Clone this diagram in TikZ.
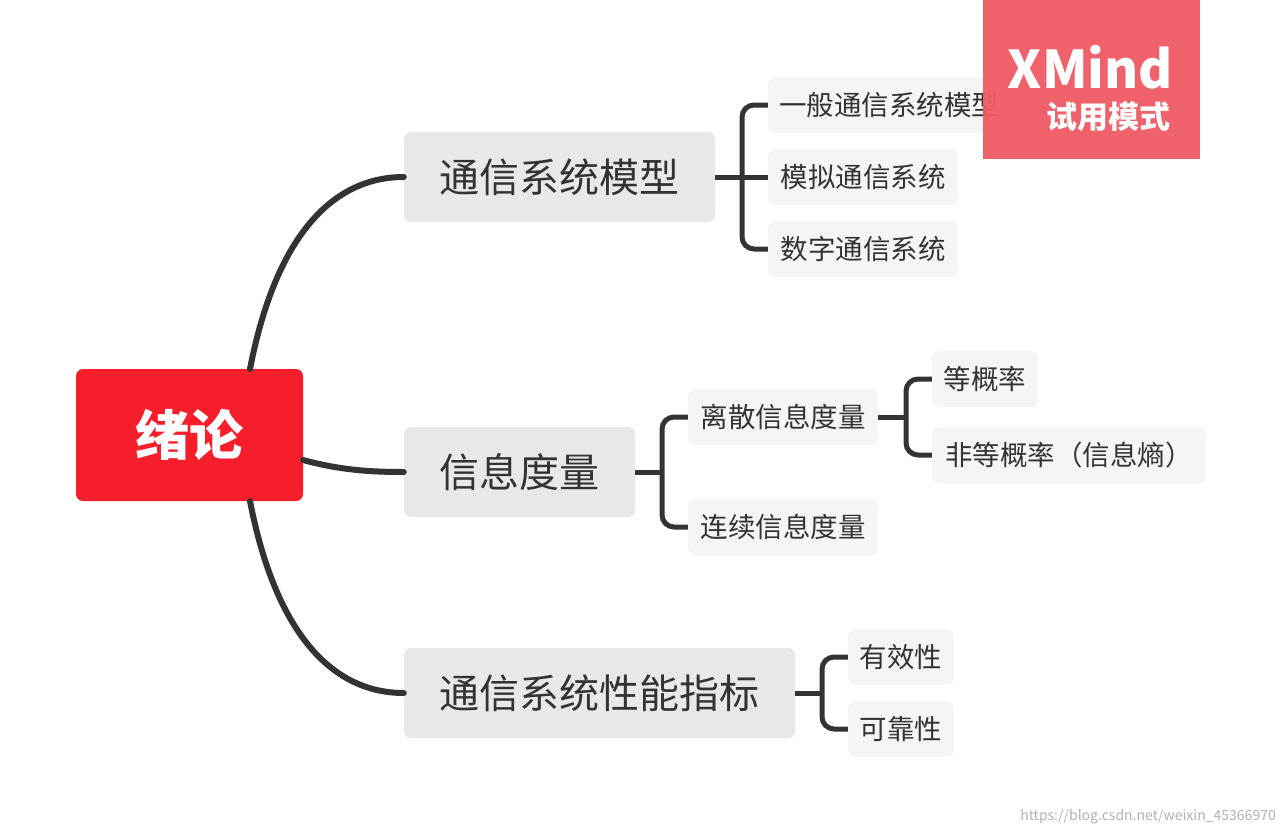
\documentclass[tikz,border=0pt]{standalone}
\usepackage{fontspec}
\setmainfont{Noto Sans CJK SC}
\begin{document}
\begin{tikzpicture}[x=1pt,y=-1pt,
  box/.style={rounded corners=7pt,inner sep=0pt,text=black!80},
  rootbox/.style={box,fill={rgb,255:red,247;green,30;blue,44},text=white,font=\fontsize{54}{58}\selectfont\bfseries},
  mainbox/.style={box,fill={rgb,255:red,232;green,232;blue,232},font=\fontsize{40}{44}\selectfont},
  leafbox/.style={box,fill={rgb,255:red,245;green,245;blue,245},font=\fontsize{27.5}{30}\selectfont},
  conn/.style={line width=6pt,draw=black!80,line cap=round},
  br/.style={line width=5pt,draw=black!80,rounded corners=12pt}]
\useasboundingbox (0,0) rectangle (1283,835);
\fill[white] (0,0) rectangle (1283,835);
% nodes
\node[rootbox,minimum width=227pt,minimum height=132pt] (r) at (189.5,435) {绪论};
\node[mainbox,minimum width=311pt,minimum height=90pt] (a) at (559.5,177) {通信系统模型};
\node[mainbox,minimum width=231pt,minimum height=90pt] (b) at (519.5,472) {信息度量};
\node[mainbox,minimum width=391pt,minimum height=90pt] (c) at (599.5,693) {通信系统性能指标};
\node[leafbox,minimum width=242pt,minimum height=56pt] (a1) at (889,105) {一般通信系统模型};
\node[leafbox,minimum width=190pt,minimum height=56pt] (a2) at (863,177) {模拟通信系统};
\node[leafbox,minimum width=190pt,minimum height=56pt] (a3) at (863,249) {数字通信系统};
\node[leafbox,minimum width=190pt,minimum height=56pt] (b1) at (783,417) {离散信息度量};
\node[leafbox,minimum width=190pt,minimum height=56pt] (b2) at (783,527) {连续信息度量};
\node[leafbox,minimum width=106pt,minimum height=56pt] (b11) at (985,379) {等概率};
\node[leafbox,minimum width=274pt,minimum height=56pt] (b12) at (1069,455) {非等概率（信息熵）};
\node[leafbox,minimum width=106pt,minimum height=56pt] (c1) at (901,657) {有效性};
\node[leafbox,minimum width=106pt,minimum height=56pt] (c2) at (901,729) {可靠性};
% root connectors
\draw[conn] (250,369) .. controls (275,240) and (330,177) .. (a.west);
\draw[conn] (303,460) .. controls (340,470) and (370,472) .. (b.west);
\draw[conn] (250,501) .. controls (275,630) and (330,693) .. (c.west);
% brackets
\draw[br] (a.east) -- (742,177);
\draw[br] (a1.west) -| (742,177) |- (a3.west);
\draw[br] (742,177) -- (a2.west);
\draw[br] (b.east) -- (662,472);
\draw[br] (b1.west) -| (662,472) |- (b2.west);
\draw[br] (b1.east) -- (906,417);
\draw[br] (b11.west) -| (906,417) |- (b12.west);
\draw[br] (c.east) -- (822,693);
\draw[br] (c1.west) -| (822,693) |- (c2.west);
% watermark
\node[fill={rgb,255:red,240;green,90;blue,100},minimum width=217pt,minimum height=159pt,inner sep=0pt,opacity=0.95] (w) at (1091.5,79.5) {};
\node[text=white,font=\fontsize{52}{56}\selectfont\bfseries,anchor=east,inner sep=0pt] (wx) at (1173,67) {XMind};
\node[text=white,font=\fontsize{31}{34}\selectfont\bfseries,anchor=east,inner sep=0pt] (wt) at (1171,117) {试用模式};
\node[text=black!30,font=\fontsize{14}{16}\selectfont,anchor=east,inner sep=0pt] (u) at (1276,817) {https://blog.csdn.net/weixin\_45366970};
\end{tikzpicture}
\end{document}
